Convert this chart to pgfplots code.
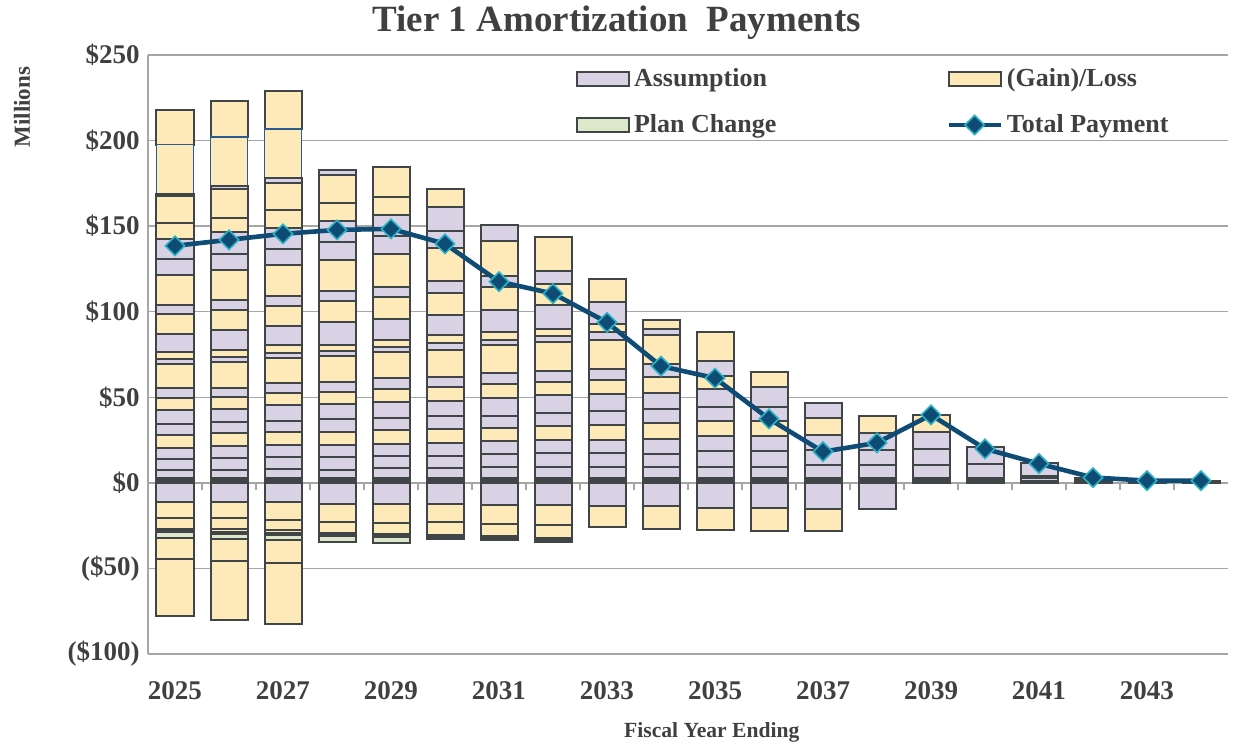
\documentclass[border=0pt]{standalone}
\usepackage{fontspec}
\setmainfont{Liberation Serif}
\usepackage{pgfplots}
\usepackage{pgfplotstable}
\pgfplotsset{compat=1.18}
\definecolor{asm}{HTML}{D9D2E5}
\definecolor{gl}{HTML}{FEE9B8}
\definecolor{pc}{HTML}{DDE8CB}
\definecolor{edge}{HTML}{404548}
\definecolor{tot}{HTML}{0E4C75}
\definecolor{dia}{HTML}{2AB3C4}
\definecolor{gridc}{HTML}{A6A6A6}
\definecolor{txt}{HTML}{404040}
\definecolor{blueedge}{HTML}{2A5D8F}
\pgfplotsset{
  base/.style={scale only axis, width=540pt, height=299.5pt,
    xmin=2024.5, xmax=2044.5, ymin=-100, ymax=250, enlargelimits=false},
  A/.style={fill=asm, draw=edge, line width=1pt},
  G/.style={fill=gl, draw=edge, line width=1pt},
  GB/.style={fill=gl, draw=blueedge, line width=0.9pt},
  PC/.style={fill=pc, draw=edge, line width=1pt},
  boxlegend/.style={legend image code/.code={\draw[##1] (0pt,-3.5pt) rectangle (26pt,3.5pt);}},
  linelegend/.style={legend image code/.code={\draw[mark repeat=2,mark phase=2,##1] plot coordinates {(0pt,0pt) (13pt,0pt) (26pt,0pt)};}},
}
% positive amortization layers, bottom (T1) to top (S1)
\pgfplotstableread{
x T1 T2 T3 S22 S21 S20 S19 S18 S17 S16 S15 S14 S13 S12 S11 S10 S9 S8 S7 S6 S5 S4 S3 S2 S1
2025 1.0 1.0 0.9 4.9 6.2 6.3 7.8 6.2 8.3 6.8 5.8 14.0 2.9 4.5 10.6 11.6 5.3 17.6 9.1 11.6 9.2 16.0 1.4 28.7 19.9
2026 1.0 1.0 0.9 4.9 6.7 6.8 7.8 6.2 7.9 7.2 5.2 15.1 2.9 3.9 11.6 11.7 6.2 17.6 9.1 12.6 8.7 16.5 1.9 28.5 21.5
2027 1.0 1.0 0.9 5.4 6.6 7.0 7.8 6.2 9.3 7.1 5.8 15.0 2.5 4.8 11.3 11.6 5.6 18.6 9.1 12.6 10.3 15.9 2.9 28.5 21.9
2028 1.0 1.0 0.9 4.9 7.3 7.2 7.7 7.4 8.5 7.4 5.8 15.1 2.9 3.7 13.2 12.0 6.0 18.4 10.1 12.6 10.3 16.4 3.0 0 0
2029 1.0 1.0 0.9 5.8 7.2 6.8 8.3 6.8 9.3 7.7 6.2 15.6 2.9 3.8 12.6 12.6 6.2 19.0 10.7 12.2 10.6 17.3 0 0 0
2030 1.0 1.0 0.9 5.8 7.2 7.4 8.1 7.4 9.3 7.7 6.2 15.9 3.9 4.4 12.1 12.7 7.2 19.0 10.1 13.6 10.6 0 0 0 0
2031 1.0 1.0 0.9 6.2 7.8 7.3 7.8 7.3 10.1 8.4 6.2 16.4 3.3 4.5 13.0 13.5 6.4 20.0 9.7 0 0 0 0 0 0
2032 1.0 1.0 0.9 6.2 8.3 7.8 8.1 7.8 10.3 7.7 6.4 16.9 3.5 4.2 13.6 12.6 7.7 19.8 0 0 0 0 0 0 0
2033 1.0 1.0 0.9 6.4 8.1 7.8 8.7 7.8 10.2 8.2 6.4 17.2 4.5 4.8 12.6 13.6 0 0 0 0 0 0 0 0 0
2034 1.0 1.0 0.9 6.2 8.0 8.5 9.3 8.1 9.7 9.3 7.2 17.0 3.9 5.2 0 0 0 0 0 0 0 0 0 0 0
2035 1.0 1.0 0.9 6.2 9.3 8.7 9.3 8.2 10.1 7.7 8.9 16.9 0 0 0 0 0 0 0 0 0 0 0 0 0
2036 1.0 1.0 0.9 6.2 9.3 8.7 9.3 8.2 11.4 8.9 0 0 0 0 0 0 0 0 0 0 0 0 0 0 0
2037 1.0 1.0 0.9 7.8 8.7 8.7 9.7 8.7 0 0 0 0 0 0 0 0 0 0 0 0 0 0 0 0 0
2038 1.0 1.0 0.9 7.8 8.7 9.7 10.0 0 0 0 0 0 0 0 0 0 0 0 0 0 0 0 0 0 0
2039 1.0 1.0 0.9 7.8 9.3 9.5 10.2 0 0 0 0 0 0 0 0 0 0 0 0 0 0 0 0 0 0
2040 1.0 1.0 0.9 8.1 9.7 0 0 0 0 0 0 0 0 0 0 0 0 0 0 0 0 0 0 0 0
2041 1.3 1.3 1.3 7.7 0 0 0 0 0 0 0 0 0 0 0 0 0 0 0 0 0 0 0 0 0
2042 1.2 1.0 0.9 0 0 0 0 0 0 0 0 0 0 0 0 0 0 0 0 0 0 0 0 0 0
2043 1.3 0 0 0 0 0 0 0 0 0 0 0 0 0 0 0 0 0 0 0 0 0 0 0 0
2044 1.3 0 0 0 0 0 0 0 0 0 0 0 0 0 0 0 0 0 0 0 0 0 0 0 0
}\postab
% negative layers, from zero downwards
\pgfplotstableread{
x N1 N2 N3 N4 N5 N6 N7 N8
2025 -11.3 -9.5 -5.9 -1.1 -1.1 -3.2 -12.1 -33.6
2026 -11.3 -9.5 -6.4 -1.3 -1.3 -2.9 -13.0 -34.6
2027 -11.3 -10.5 -6.0 -1.35 -1.35 -2.9 -13.3 -36.0
2028 -12.1 -10.7 -6.4 -1.0 -1.0 -3.5 0 0
2029 -12.1 -11.1 -6.6 -1.0 -0.9 -3.7 0 0
2030 -12.6 -10.3 -7.6 -1.0 -1.1 0 0 0
2031 -13.0 -10.9 -7.4 -1.1 -1.1 0 0 0
2032 -13.0 -11.9 -7.2 -1.1 -1.2 0 0 0
2033 -13.6 -12.3 0 0 0 0 0 0
2034 -13.6 -13.1 0 0 0 0 0 0
2035 -14.6 -13.0 0 0 0 0 0 0
2036 -14.6 -13.6 0 0 0 0 0 0
2037 -15.1 -13.3 0 0 0 0 0 0
2038 -15.4 0 0 0 0 0 0 0
2039 0 0 0 0 0 0 0 0
2040 0 0 0 0 0 0 0 0
2041 0 0 0 0 0 0 0 0
2042 0 0 0 0 0 0 0 0
2043 0 0 0 0 0 0 0 0
2044 0 0 0 0 0 0 0 0
}\negtab
\pgfplotstableread{
x t
2025 138.5
2026 142.0
2027 145.5
2028 147.8
2029 148.4
2030 139.7
2031 117.6
2032 110.6
2033 93.8
2034 68.2
2035 61.2
2036 37.4
2037 18.2
2038 23.4
2039 39.7
2040 19.9
2041 11.2
2042 3.1
2043 1.3
2044 1.3
}\tottab
\begin{document}
\begin{tikzpicture}
% frame, grid, labels
\begin{axis}[base, name=ax,
  axis lines*=left, axis line style={draw=gridc, line width=1pt},
  ymajorgrids, grid style={draw=gridc, line width=0.75pt},
  ytick={-100,-50,...,250},
  yticklabels={(\$100),(\$50),\$0,\$50,\$100,\$150,\$200,\$250},
  xtick={2025,2027,...,2043},
  xticklabels={2025,2027,2029,2031,2033,2035,2037,2039,2041,2043},
  major tick length=0pt,
  tick label style={font=\fontsize{13.5}{16}\selectfont\bfseries, text=txt},
  yticklabel style={anchor=east, inner sep=0pt, xshift=-4pt},
  xticklabel style={anchor=base, inner sep=0pt, yshift=-22.5pt},
  title={Tier 1 Amortization\ \ Payments},
  title style={at={(0.434,1.0384)}, anchor=base, yshift=-6pt, font=\fontsize{18.5}{22}\selectfont\bfseries, text=txt},
  xlabel={Fiscal Year Ending},
  xlabel style={at={(0.522,-0.1402)}, anchor=base, font=\fontsize{10.8}{13}\selectfont\bfseries, text=txt},
  ylabel={Millions},
  ylabel style={at={(-0.1167,0.913)}, anchor=center, font=\fontsize{11.5}{13}\selectfont\bfseries, text=txt},
]
\pgfplotsinvokeforeach{2025.5,2026.5,2027.5,2028.5,2029.5,2030.5,2031.5,2032.5,2033.5,2034.5,2035.5,2036.5,2037.5,2038.5,2039.5,2040.5,2041.5,2042.5,2043.5}{
  \draw[gridc, line width=0.75pt] (axis cs:#1,0) -- ([yshift=-3.5pt]axis cs:#1,0);
}
\end{axis}
% negative stacks
\begin{axis}[base, hide axis, ybar stacked, bar width=18.5pt]
\addplot[A] table[x=x,y=N1]{\negtab};
\addplot[G] table[x=x,y=N2]{\negtab};
\addplot[G] table[x=x,y=N3]{\negtab};
\addplot[G] table[x=x,y=N4]{\negtab};
\addplot[G] table[x=x,y=N5]{\negtab};
\addplot[PC] table[x=x,y=N6]{\negtab};
\addplot[G] table[x=x,y=N7]{\negtab};
\addplot[G] table[x=x,y=N8]{\negtab};
\end{axis}
% positive stacks
\begin{axis}[base, hide axis, ybar stacked, bar width=18.5pt]
\addplot[A] table[x=x,y=T1]{\postab};
\addplot[A] table[x=x,y=T2]{\postab};
\addplot[A] table[x=x,y=T3]{\postab};
\addplot[A] table[x=x,y=S22]{\postab};
\addplot[A] table[x=x,y=S21]{\postab};
\addplot[A] table[x=x,y=S20]{\postab};
\addplot[G] table[x=x,y=S19]{\postab};
\addplot[A] table[x=x,y=S18]{\postab};
\addplot[A] table[x=x,y=S17]{\postab};
\addplot[G] table[x=x,y=S16]{\postab};
\addplot[A] table[x=x,y=S15]{\postab};
\addplot[G] table[x=x,y=S14]{\postab};
\addplot[A] table[x=x,y=S13]{\postab};
\addplot[G] table[x=x,y=S12]{\postab};
\addplot[A] table[x=x,y=S11]{\postab};
\addplot[G] table[x=x,y=S10]{\postab};
\addplot[A] table[x=x,y=S9]{\postab};
\addplot[G] table[x=x,y=S8]{\postab};
\addplot[A] table[x=x,y=S7]{\postab};
\addplot[A] table[x=x,y=S6]{\postab};
\addplot[G] table[x=x,y=S5]{\postab};
\addplot[G] table[x=x,y=S4]{\postab};
\addplot[A] table[x=x,y=S3]{\postab};
\addplot[GB] table[x=x,y=S2]{\postab};
\addplot[G] table[x=x,y=S1]{\postab};
\end{axis}
% total payment line and legend
\begin{axis}[base, hide axis,
  legend columns=2,
  legend cell align=left,
  legend style={at={(0.396,0.985)}, anchor=north west, draw=none, fill=none, inner sep=0pt,
    font=\fontsize{13}{15}\selectfont\bfseries, text=txt, row sep=8.5pt,
    /tikz/every even column/.append style={column sep=83pt}},
]
\addlegendimage{boxlegend, fill=asm, draw=edge, line width=1pt}
\addlegendentry{Assumption}
\addlegendimage{boxlegend, fill=gl, draw=edge, line width=1pt}
\addlegendentry{(Gain)/Loss}
\addlegendimage{boxlegend, fill=pc, draw=edge, line width=1pt}
\addlegendentry{Plan Change}
\addplot[linelegend, draw=tot, line width=2.3pt, mark=square*, mark size=3.4pt,
  mark options={rotate=45, fill=tot, draw=dia, line width=0.8pt}] table[x=x,y=t]{\tottab};
\addlegendentry{Total Payment}
\end{axis}
\pgfresetboundingbox
\path[use as bounding box] ([xshift=-74pt,yshift=-46pt]ax.south west) rectangle ([xshift=5.5pt,yshift=27.5pt]ax.north east);
\end{tikzpicture}
\end{document}
